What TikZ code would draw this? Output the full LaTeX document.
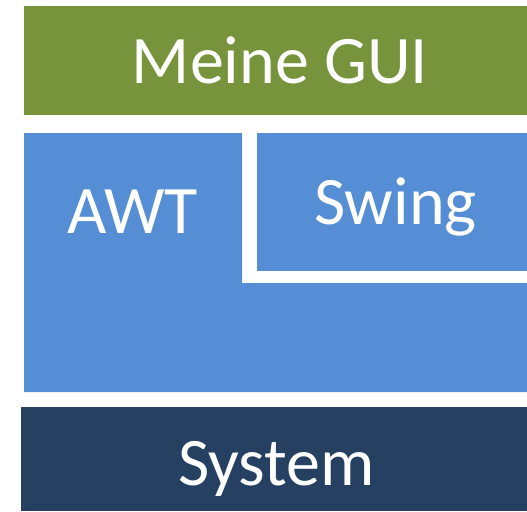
\documentclass[tikz,border=0pt]{standalone}
\usepackage{fontspec}
\setmainfont{Carlito}
\definecolor{guigreen}{HTML}{77933C}
\definecolor{awtblue}{HTML}{558ED5}
\definecolor{sysnavy}{HTML}{254061}
\begin{document}
\begin{tikzpicture}[x=1pt,y=-1pt,
  layertext/.style={text=white,font=\fontsize{68}{68}\selectfont,anchor=base,inner sep=0pt}]
\useasboundingbox (0,0) rectangle (527,511);
% layers
\fill[guigreen] (24,6) rectangle (527,115);
\fill[awtblue] (24,133) -- (242,133) -- (242,283) -- (527,283) -- (527,392) -- (24,392) -- cycle;
\fill[awtblue] (257,133) rectangle (527,271);
\fill[sysnavy] (21,407) rectangle (527,511);
% labels
\node[layertext] (gui) at (280,83) {Meine GUI};
\node[layertext] (awt) at (132.5,233) {AWT};
\node[layertext] (swing) at (395.5,224) {Swing};
\node[layertext] (system) at (276.5,485) {System};
\end{tikzpicture}
\end{document}
